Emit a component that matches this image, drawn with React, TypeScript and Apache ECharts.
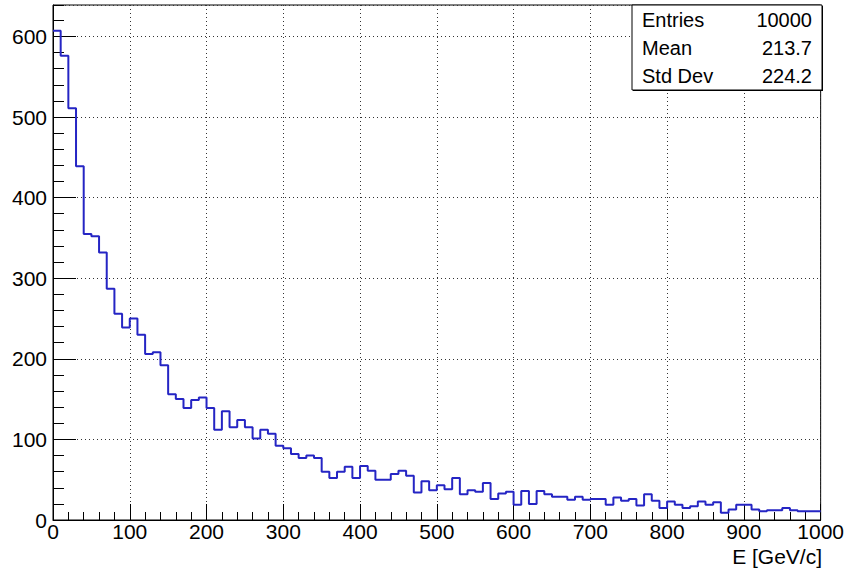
import React, { useEffect, useRef } from "react";
import * as echarts from "echarts";

// Histogram: 100 bins of width 10 GeV/c from 0 to 1000
const X_MIN = 0;
const X_MAX = 1000;
const BIN_WIDTH = 10;
const Y_MAX = 639;

const counts: number[] = [
  607, 576, 511, 439, 355, 352, 332, 287, 256, 239,
  250, 230, 206, 208, 192, 156, 150, 139, 149, 152,
  139, 112, 135, 115, 124, 115, 101, 112, 107, 92,
  89, 82, 77, 80, 77, 60, 52, 60, 66, 52,
  67, 61, 50, 50, 57, 61, 55, 34, 48, 37,
  43, 38, 52, 32, 37, 35, 46, 26, 33, 35,
  19, 36, 20, 36, 32, 29, 29, 25, 29, 25,
  26, 26, 19, 28, 24, 26, 18, 32, 24, 15,
  23, 19, 15, 17, 23, 19, 22, 9, 13, 19,
  19, 13, 11, 12, 12, 15, 12, 11, 11, 11,
];

const statLabels: string[] = ["Entries", "Mean", "Std Dev"];
const statValues: string[] = ["10000", "213.7", "224.2"];
const xTitle = "E [GeV/c]";

const FONT = "'Liberation Sans', Arial, Helvetica, sans-serif";
const LINE_COLOR = "#2525c4";
const GRID_DOT = "#333";

export default function App() {
  const ref = useRef<HTMLDivElement>(null);

  useEffect(() => {
    if (!ref.current) return;
    const chart = echarts.init(ref.current, undefined, { renderer: "svg" });

    const points: [number, number][] = counts.map((c, i) => [X_MIN + i * BIN_WIDTH, c]);
    points.push([X_MAX, counts[counts.length - 1]]);

    const gridLeft = 53;
    const gridRight = 25;
    const gridTop = 5;
    const gridBottom = 54;
    const W = 847;
    const frameRight = W - gridRight;

    const rowY = [20, 48, 76];

    chart.setOption({
      animation: false,
      backgroundColor: "#fff",
      grid: {
        left: gridLeft,
        right: gridRight,
        top: gridTop,
        bottom: gridBottom,
        show: true,
        borderColor: "#000",
        borderWidth: 1,
        backgroundColor: "transparent",
      },
      xAxis: {
        type: "value",
        min: X_MIN,
        max: X_MAX,
        interval: 100,
        axisLine: { show: true, onZero: false, lineStyle: { color: "#000", width: 1 } },
        axisTick: { show: true, inside: true, length: 16, lineStyle: { color: "#000", width: 1 } },
        minorTick: { show: true, splitNumber: 5, length: 8, lineStyle: { color: "#000", width: 1 } },
        splitLine: { show: true, lineStyle: { color: GRID_DOT, width: 1, type: [1, 3] } },
        axisLabel: {
          margin: 1,
          fontSize: 21,
          color: "#000",
          fontFamily: FONT,
          formatter: (v: number) => String(v),
        },
      },
      yAxis: [
        {
          type: "value",
          min: 0,
          max: Y_MAX,
          interval: 100,
          position: "left",
          axisLine: { show: true, onZero: false, lineStyle: { color: "#000", width: 1 } },
          axisTick: { show: true, inside: true, length: 23, lineStyle: { color: "#000", width: 1 } },
          splitLine: { show: true, lineStyle: { color: GRID_DOT, width: 1, type: [1, 3] } },
          axisLabel: {
            margin: 6,
            fontSize: 21,
            color: "#000",
            fontFamily: FONT,
            showMaxLabel: false,
            formatter: (v: number) => (v % 100 === 0 ? String(v) : ""),
          },
        },
        {
          type: "value",
          min: 0,
          max: Y_MAX,
          interval: 20,
          position: "left",
          axisLine: { show: false },
          axisTick: { show: true, inside: true, length: 11, lineStyle: { color: "#000", width: 1 } },
          splitLine: { show: false },
          axisLabel: { show: false },
        },
      ],
      series: [
        {
          type: "line",
          step: "end",
          data: points,
          yAxisIndex: 0,
          symbol: "none",
          clip: true,
          lineStyle: { color: LINE_COLOR, width: 2 },
          z: 5,
        },
      ],
      graphic: [
        {
          type: "text",
          right: W - frameRight,
          top: 546,
          style: { text: xTitle, fill: "#000", font: `21px ${FONT}` },
        },
        {
          type: "group",
          z: 100,
          children: [
            {
              type: "rect",
              shape: { x: 633, y: 6, width: frameRight - 632, height: 85 },
              style: { fill: "#000" },
              z: 100,
            },
            {
              type: "rect",
              shape: { x: 632, y: 5, width: frameRight - 632, height: 85 },
              style: { fill: "#fff", stroke: "#000", lineWidth: 1 },
              z: 101,
            },
            ...statLabels.map((t, i) => ({
              type: "text",
              x: 642,
              y: rowY[i],
              z: 102,
              style: {
                text: t,
                fill: "#000",
                font: `20px ${FONT}`,
                textAlign: "left",
                textVerticalAlign: "middle",
                verticalAlign: "middle",
              },
            })),
            ...statValues.map((t, i) => ({
              type: "text",
              x: 812,
              y: rowY[i],
              z: 102,
              style: {
                text: t,
                fill: "#000",
                font: `20px ${FONT}`,
                textAlign: "right",
                textVerticalAlign: "middle",
                verticalAlign: "middle",
              },
            })),
          ],
        },
      ],
    });

    return () => {
      chart.dispose();
    };
  }, []);

  return (
    <div
      ref={ref}
      style={{ position: "fixed", left: 0, top: 0, width: 847, height: 574, background: "#fff" }}
    />
  );
}
